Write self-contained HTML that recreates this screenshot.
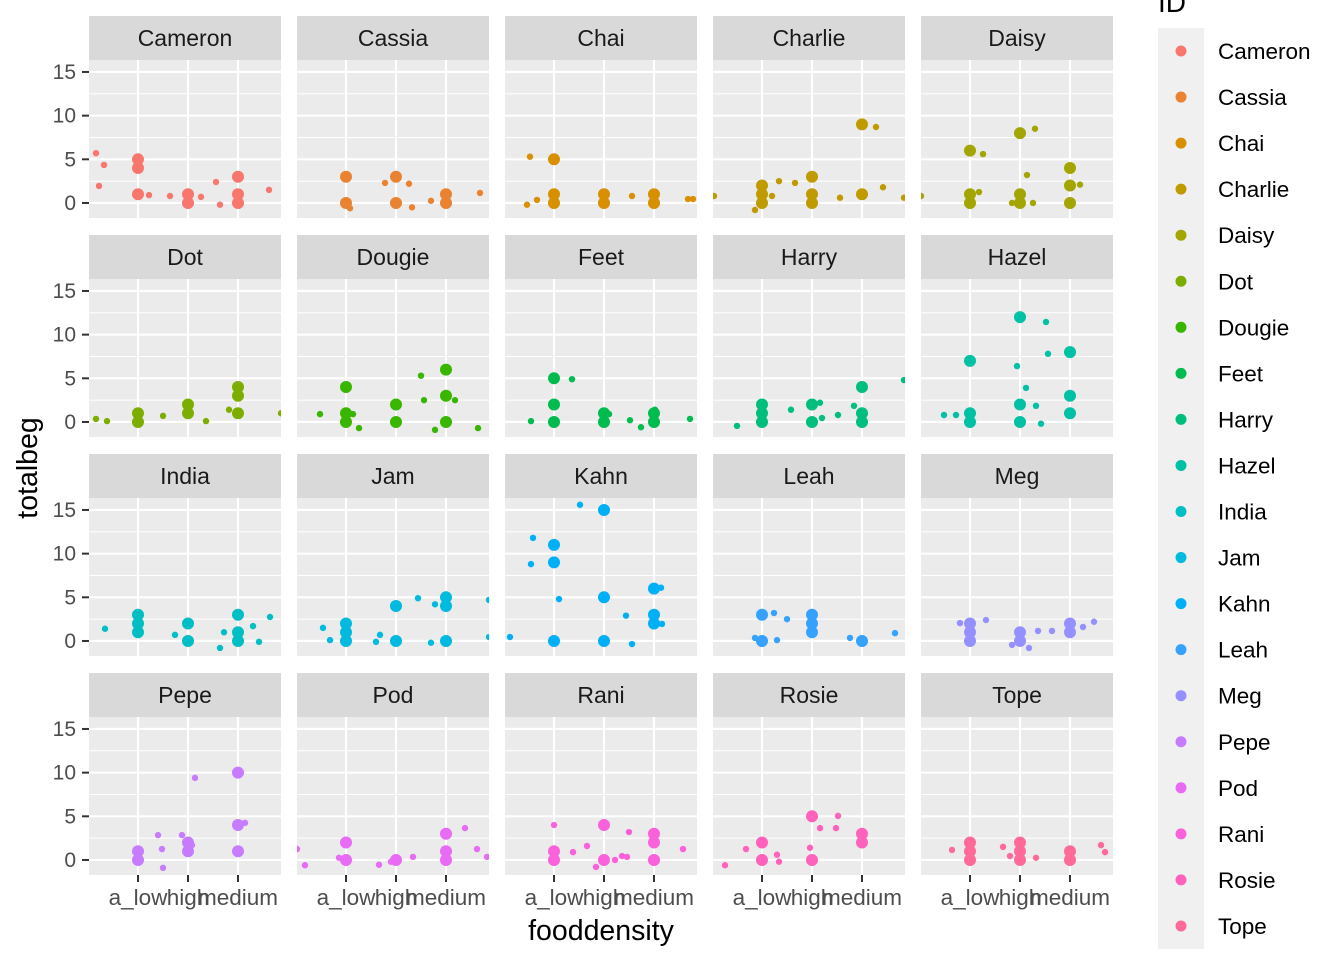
<!DOCTYPE html>
<html><head><meta charset="utf-8"><style>
html,body{margin:0;padding:0;background:#fff;}
svg{display:block;font-family:"Liberation Sans",sans-serif;}
</style></head><body>
<svg id="chart" width="1344" height="960" viewBox="0 0 1344 960"></svg>
<script>
const ids=["Cameron","Cassia","Chai","Charlie","Daisy","Dot","Dougie","Feet","Harry","Hazel","India","Jam","Kahn","Leah","Meg","Pepe","Pod","Rani","Rosie","Tope"];
const categories=["a_low","high","medium"];
const yTicks=[0,5,10,15];
// big points: [category index 1..3, totalbeg]
const bigPts=[
[[1,5],[1,4],[1,1],[2,1],[2,0],[3,3],[3,1],[3,0]],
[[1,3],[1,0],[2,3],[2,0],[3,1],[3,0]],
[[1,5],[1,1],[1,0],[2,1],[2,0],[3,1],[3,0]],
[[1,2],[1,1],[1,0],[2,3],[2,1],[2,0],[3,9],[3,1]],
[[1,6],[1,1],[1,0],[2,8],[2,1],[2,0],[3,4],[3,2],[3,0]],
[[1,1],[1,0],[2,2],[2,1],[3,4],[3,3],[3,1]],
[[1,4],[1,1],[1,0],[2,2],[2,0],[3,6],[3,3],[3,0]],
[[1,5],[1,2],[1,0],[2,1],[2,0],[3,1],[3,0]],
[[1,2],[1,1],[1,0],[2,2],[2,0],[3,4],[3,1],[3,0]],
[[1,7],[1,1],[1,0],[2,12],[2,2],[2,0],[3,8],[3,3],[3,1]],
[[1,3],[1,2],[1,1],[2,2],[2,0],[3,3],[3,1],[3,0]],
[[1,2],[1,1],[1,0],[2,4],[2,0],[3,5],[3,4],[3,0]],
[[1,11],[1,9],[1,0],[2,15],[2,5],[2,0],[3,6],[3,3],[3,2]],
[[1,3],[1,0],[2,3],[2,2],[2,1],[3,0]],
[[1,2],[1,1],[1,0],[2,1],[2,0],[3,2],[3,1]],
[[1,1],[1,0],[2,2],[2,1],[3,10],[3,4],[3,1]],
[[1,2],[1,0],[2,0],[3,3],[3,1],[3,0]],
[[1,1],[1,0],[2,4],[2,0],[3,3],[3,2],[3,0]],
[[1,2],[1,0],[2,5],[2,0],[3,3],[3,2]],
[[1,2],[1,1],[1,0],[2,2],[2,1],[2,0],[3,1],[3,0]]
];
// jittered small points: [x (continuous), totalbeg]
const smallPts=[
[[0.16,5.7],[0.32,4.35],[0.22,1.95],[1.22,0.9],[1.64,0.8],[2.26,0.7],[2.56,2.4],[2.64,-0.2],[3.62,1.5]],
[[1.08,-0.6],[1.78,2.3],[2.26,2.2],[2.32,-0.5],[2.7,0.25],[3.68,1.15]],
[[0.52,5.3],[0.46,-0.2],[0.66,0.35],[2.56,0.8],[3.68,0.45],[3.78,0.45]],
[[0.04,0.8],[0.86,-0.8],[1.2,0.8],[1.34,2.5],[1.66,2.3],[2.56,0.6],[3.28,8.7],[3.42,1.8],[3.84,0.6]],
[[0.02,0.8],[1.18,1.25],[1.26,5.6],[1.84,0],[2.14,3.2],[2.26,0],[2.3,8.5],[3.2,2.1]],
[[0.16,0.35],[0.38,0.1],[1.5,0.7],[2.36,0.1],[2.82,1.4],[3.86,1.0]],
[[0.48,0.9],[0.96,4.0],[1.14,0.9],[1.26,-0.7],[2.5,5.3],[2.56,2.5],[2.78,-0.9],[3.18,2.5],[3.64,-0.7]],
[[0.54,0.1],[1.36,4.9],[2.1,0.9],[2.52,0.2],[2.74,-0.6],[3.02,1.4],[3.72,0.35]],
[[0.5,-0.45],[1.58,1.4],[2.16,2.2],[2.2,0.45],[2.52,0.8],[2.84,1.85],[3.84,4.8]],
[[0.48,0.8],[0.72,0.8],[1.94,6.4],[2.12,3.9],[2.32,1.85],[2.42,-0.2],[2.52,11.45],[2.56,7.8]],
[[0.34,1.4],[1.74,0.7],[2.64,-0.8],[2.72,1.0],[3.3,1.7],[3.42,-0.1],[3.64,2.75]],
[[0.54,1.5],[0.68,0.1],[1.6,-0.1],[1.68,0.7],[2.44,4.9],[2.7,-0.2],[2.78,4.2],[3.86,4.7],[3.86,0.45]],
[[0.12,0.45],[0.54,8.8],[0.58,11.8],[1.1,4.8],[1.52,15.6],[2.44,2.9],[2.56,-0.35],[3.14,6.1],[3.16,1.95]],
[[0.86,0.35],[1.24,3.2],[1.3,0.1],[1.5,2.5],[2.76,0.35],[3.66,0.9]],
[[0.8,2.05],[1.32,2.4],[1.84,-0.45],[2.18,-0.8],[2.36,1.15],[2.64,1.15],[3.26,1.6],[3.48,2.2]],
[[1.4,2.85],[1.48,1.25],[1.5,-0.9],[1.88,2.85],[2.08,1.7],[2.14,9.4],[3.14,4.25]],
[[0.02,1.25],[0.18,-0.6],[0.86,0.25],[1.66,-0.55],[1.9,-0.2],[2.34,0.35],[3.38,3.65],[3.62,1.25],[3.82,0.35]],
[[1.0,4.0],[1.38,0.9],[1.66,1.6],[1.84,-0.8],[2.22,0],[2.36,0.45],[2.46,0.35],[2.5,3.2],[3.58,1.25]],
[[0.26,-0.6],[0.68,1.25],[1.3,0.6],[1.34,-0.2],[1.96,1.4],[2.16,3.65],[2.48,3.65],[2.52,5.05]],
[[0.64,1.15],[1.66,1.5],[1.8,0.45],[2.32,0.25],[3.62,1.7],[3.7,0.9]]
];

function hcl2hex(h,c,l){
  const hr=h*Math.PI/180,U=c*Math.cos(hr),V=c*Math.sin(hr);
  const Y=l>8?Math.pow((l+16)/116,3):l/903.3;
  const un=0.1978398,vn=0.4683363;
  const u=U/(13*l)+un,v=V/(13*l)+vn;
  const X=9*Y*u/(4*v),Z=-X/3-5*Y+3*Y/v;
  const lin=[3.240479*X-1.53715*Y-0.498535*Z,-0.969256*X+1.875992*Y+0.041556*Z,0.055648*X-0.204043*Y+1.057311*Z];
  return '#'+lin.map(t=>{t=t<=0.0031308?12.92*t:1.055*Math.pow(t,1/2.4)-0.055;t=Math.max(0,Math.min(1,t));return Math.round(t*255).toString(16).padStart(2,'0');}).join('');
}
const colors=ids.map((d,i)=>hcl2hex(15+360*i/20,100,65));

const NS="http://www.w3.org/2000/svg";
const svg=document.getElementById('chart');
function mk(tag,attrs,parent){const e=document.createElementNS(NS,tag);for(const k in attrs)e.setAttribute(k,attrs[k]);(parent||svg).appendChild(e);return e;}

const PW=192,PH=158,SH=44,L0=89,T0=16,GX=16,GY=17;
const yMin=-1.72,yMax=16.37,xMin=0.02,xMax=3.86;
function sx(left,v){return left+(v-xMin)/(xMax-xMin)*PW;}
function sy(top,v){return top+PH-(v-yMin)/(yMax-yMin)*PH;}

ids.forEach((id,i)=>{
  const col=i%5,row=Math.floor(i/5);
  const left=L0+col*(PW+GX),stripTop=T0+row*(SH+PH+GY),top=stripTop+SH;
  const g=mk('g',{});
  
  
  const st=mk('rect',{x:left,y:stripTop,width:PW,height:SH,fill:'#d9d9d9'},g);
  
  
  const stt=mk('text',{x:left+PW/2,y:stripTop+30,'text-anchor':'middle','font-size':23,fill:'#1a1a1a'},g);
  stt.textContent=id;
  
  
  const bg=mk('rect',{x:left,y:top,width:PW,height:PH,fill:'#ebebeb'},g);
  
  
  [2.5,7.5,12.5].forEach(v=>mk('line',{x1:left,x2:left+PW,y1:sy(top,v),y2:sy(top,v),stroke:'#fff','stroke-width':1},g));
  yTicks.forEach(v=>mk('line',{x1:left,x2:left+PW,y1:sy(top,v),y2:sy(top,v),stroke:'#fff','stroke-width':2.1},g));
  categories.forEach((c,k)=>mk('line',{x1:sx(left,k+1),x2:sx(left,k+1),y1:top,y2:top+PH,stroke:'#fff','stroke-width':2.1},g));
  const clipId='clip'+i;
  const cp=mk('clipPath',{id:clipId},g);mk('rect',{x:left,y:top,width:PW,height:PH},cp);
  const pg=mk('g',{'clip-path':'url(#'+clipId+')'},g);
  bigPts[i].forEach(p=>{
    const c=mk('circle',{cx:sx(left,p[0]),cy:sy(top,p[1]),r:6,fill:colors[i]},pg);
    
    
  });
  smallPts[i].forEach(p=>{
    const c=mk('circle',{cx:sx(left,p[0]),cy:sy(top,p[1]),r:3.2,fill:colors[i]},pg);
    
    
  });
  if(col===0){
    yTicks.forEach(v=>{
      mk('line',{x1:left-7,x2:left,y1:sy(top,v),y2:sy(top,v),stroke:'#333','stroke-width':2},g);
      const t=mk('text',{x:left-13,y:sy(top,v)+7,'text-anchor':'end','font-size':21,fill:'#4d4d4d'},g);
      t.textContent=v;
      
      
    });
  }
  if(row===3){
    categories.forEach((c,k)=>{
      const x=sx(left,k+1);
      mk('line',{x1:x,x2:x,y1:top+PH,y2:top+PH+7,stroke:'#333','stroke-width':2},g);
      const t=mk('text',{x:x,y:top+PH+30,'text-anchor':'middle','font-size':22.5,fill:'#4d4d4d'},g);
      t.textContent=c;
      
      
    });
  }
});
const xt=mk('text',{x:601,y:940,'text-anchor':'middle','font-size':28.5,fill:'#000'});
xt.textContent='fooddensity';


const yt=mk('text',{x:0,y:0,'text-anchor':'middle','font-size':28.5,fill:'#000',transform:'translate(37,468) rotate(-90)'});
yt.textContent='totalbeg';


// legend
const lt=mk('text',{x:1158,y:12,'font-size':28,fill:'#000'});
lt.textContent='ID';


const lb=mk('rect',{x:1158,y:28,width:46,height:921,fill:'#f0f0f0'});


ids.forEach((id,i)=>{
  const y=51+i*46.05;
  const g=mk('g',{});
  
  
  mk('circle',{cx:1181,cy:y,r:5.5,fill:colors[i]},g);
  const t=mk('text',{x:1218,y:y+8,'font-size':22.5,fill:'#000'},g);
  t.textContent=id;
});
</script>
</body></html>
